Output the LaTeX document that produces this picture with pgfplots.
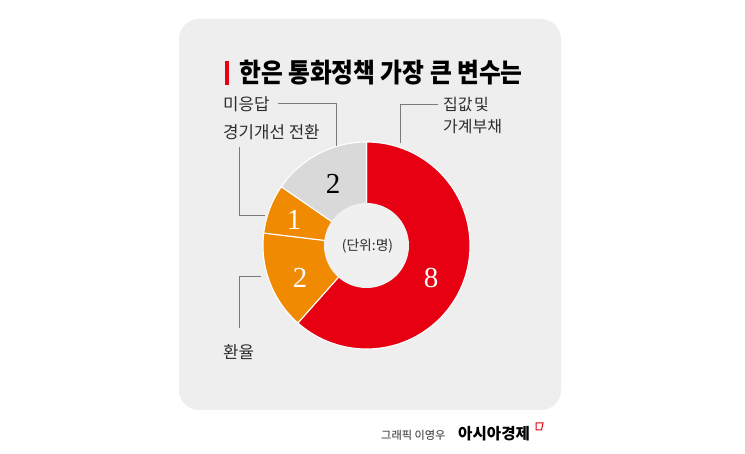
\documentclass[border=0pt]{standalone}
\usepackage{fontspec}
\usepackage{pgfplots}
\usepackage{pgfplotstable}
\pgfplotsset{compat=1.18}
\setmainfont{Noto Sans CJK KR}
\newfontfamily\numfont{Liberation Serif}
\definecolor{cRed}{HTML}{E60012}
\definecolor{cOrange}{HTML}{F08A00}
\definecolor{cGrey}{HTML}{D9D9D9}
\definecolor{cBg}{HTML}{EEEEEE}
\definecolor{cInner}{HTML}{F0F0F0}
\definecolor{cLine}{HTML}{7A7A7A}
\definecolor{cText}{HTML}{2E2E2E}

% values in people (단위: 명), clockwise from 12 o'clock
\pgfplotstableread{
id value
1 8
2 2
3 1
4 2
}\donutdata

\pgfplotstablegetelem{0}{value}\of\donutdata \let\vA\pgfplotsretval
\pgfplotstablegetelem{1}{value}\of\donutdata \let\vB\pgfplotsretval
\pgfplotstablegetelem{2}{value}\of\donutdata \let\vC\pgfplotsretval
\pgfplotstablegetelem{3}{value}\of\donutdata \let\vD\pgfplotsretval
\pgfmathsetmacro\tot{\vA+\vB+\vC+\vD}
\pgfmathsetmacro\aA{90}
\pgfmathsetmacro\aB{\aA-\vA/\tot*360}
\pgfmathsetmacro\aC{\aB-\vB/\tot*360}
\pgfmathsetmacro\aD{\aC-\vC/\tot*360}
\pgfmathsetmacro\aE{\aD-\vD/\tot*360}
\def\cx{366.5}
\def\cy{245.5}
\def\R{103.5}

\begin{document}
\begin{tikzpicture}
\begin{axis}[x=1pt,y=1pt,y dir=reverse,
  xmin=0,xmax=745,ymin=0,ymax=454,
  hide axis, clip=false, scale only axis]
\fill[white] (0,0) rectangle (745,454);
\fill[cBg, rounded corners=20pt] (179,19) rectangle (561,410);

\addplot[fill=cRed, draw=white, line width=1.1pt, domain=\aB:\aA, samples=120, variable=\t]
  ({\cx+\R*cos(\t)},{\cy-\R*sin(\t)}) -- (\cx,\cy) -- cycle;
\addplot[fill=cOrange, draw=white, line width=1.1pt, domain=\aC:\aB, samples=40, variable=\t]
  ({\cx+\R*cos(\t)},{\cy-\R*sin(\t)}) -- (\cx,\cy) -- cycle;
\addplot[fill=cOrange, draw=white, line width=1.1pt, domain=\aD:\aC, samples=30, variable=\t]
  ({\cx+\R*cos(\t)},{\cy-\R*sin(\t)}) -- (\cx,\cy) -- cycle;
\addplot[fill=cGrey, draw=white, line width=1.1pt, domain=\aE:\aD, samples=40, variable=\t]
  ({\cx+\R*cos(\t)},{\cy-\R*sin(\t)}) -- (\cx,\cy) -- cycle;
\fill[cInner] (\cx,\cy) circle[radius=42.5];

% values
\node[font=\numfont\fontsize{29}{30}\selectfont, text=black] at (333,184) {2};
\node[font=\numfont\fontsize{29}{30}\selectfont, text=white] at (294,220) {1};
\node[font=\numfont\fontsize{29}{30}\selectfont, text=white] at (300,278) {2};
\node[font=\numfont\fontsize{29}{30}\selectfont, text=white] at (431,278) {8};
\node[font=\fontsize{13.8}{14}\selectfont, text=cText] at (367.5,246) {(단위:명)};

% title
\fill[cRed] (224.5,61) rectangle (229,85);
\node[anchor=west, inner sep=0pt, text=black] at (239,73)
  {\scalebox{0.895}[1]{\bfseries\fontsize{26.5}{28}\selectfont 한은 통화정책 가장 큰 변수는}};

% leader lines
\draw[cLine, line width=0.7pt] (278,103.5) -- (336,103.5) -- (336,146);
\draw[cLine, line width=0.7pt] (239,147) -- (239,215) -- (265,215);
\draw[cLine, line width=0.7pt] (261,276) -- (239,276) -- (239,328);
\draw[cLine, line width=0.7pt] (438,104) -- (400,104) -- (400,143);

% labels
\node[anchor=west, inner sep=0pt, text=cText] at (223,104)
  {\fontsize{16.8}{18}\selectfont 미응답};
\node[anchor=west, inner sep=0pt, text=cText] at (223,132)
  {\fontsize{16.8}{18}\selectfont 경기개선 전환};
\node[anchor=west, inner sep=0pt, text=cText] at (223,352)
  {\fontsize{16.8}{18}\selectfont 환율};
\node[anchor=west, inner sep=0pt, text=cText] at (443,104)
  {\fontsize{16}{18}\selectfont 집값\hspace{1.5pt}및};
\node[anchor=west, inner sep=0pt, text=cText] at (443,127)
  {\fontsize{16}{18}\selectfont 가계부채};

% footer
\node[anchor=west, inner sep=0pt, text=cText] at (381,435)
  {\fontsize{11.2}{12}\selectfont 그래픽 이영우};
\node[anchor=west, inner sep=0pt, text=black] at (458,434)
  {\bfseries\fontsize{15.6}{16}\selectfont 아시아경제};
\draw[cRed, line width=1pt, line join=miter] (536,423) -- (536,430) -- (541.5,430) -- (543,423) -- cycle;
\end{axis}
\end{tikzpicture}
\end{document}
